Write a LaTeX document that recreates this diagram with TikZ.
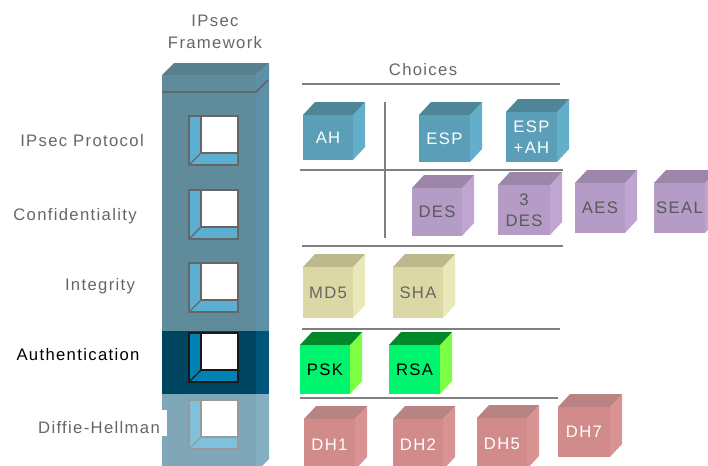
\documentclass[tikz,border=0pt]{standalone}
\usepackage{fontspec}
\setmainfont{Liberation Sans}[LetterSpace = 8]
\usetikzlibrary{positioning}

% tower colours
\definecolor{towerfront}{HTML}{5F8B9B}
\definecolor{towerside}{HTML}{5E90A8}
\definecolor{towertop}{HTML}{587F8D}
\definecolor{selfront}{HTML}{00455F}
\definecolor{selside}{HTML}{00557A}
\definecolor{lowfront}{HTML}{7FA7B7}
\definecolor{lowside}{HTML}{84AEC2}
\definecolor{panelight}{HTML}{5BB0D2}
\definecolor{panedark}{HTML}{0082B4}
\definecolor{panepale}{HTML}{7FC0DD}
% cube colours
\definecolor{protofront}{HTML}{5A9EB7}
\definecolor{prototop}{HTML}{4E8597}
\definecolor{protoside}{HTML}{63AFCB}
\definecolor{cipherfront}{HTML}{B49CC6}
\definecolor{ciphertop}{HTML}{9C87AB}
\definecolor{cipherside}{HTML}{C0A5D3}
\definecolor{hashfront}{HTML}{DBD8A6}
\definecolor{hashtop}{HTML}{BDB98D}
\definecolor{hashside}{HTML}{EAE7B8}
\definecolor{keyfront}{HTML}{00F56E}
\definecolor{keytop}{HTML}{00882A}
\definecolor{keyside}{HTML}{7DFF45}
\definecolor{dhfront}{HTML}{D18B8B}
\definecolor{dhtop}{HTML}{B98383}
\definecolor{dhside}{HTML}{DA9393}
\definecolor{labelgray}{HTML}{666666}
\definecolor{rulegray}{HTML}{808080}

\tikzset {
    rule/.style = {draw = rulegray, line width = 1.1pt},
    row label/.style = {anchor = base, inner sep = 0pt, text = labelgray,
        font = \fontsize{12.5}{15}\selectfont},
    title text/.style = {align = center, inner sep = 0pt, text = labelgray,
        font = \fontsize{12.5}{17}\selectfont},
    cube text/.style = {align = center, inner sep = 0pt,
        font = \fontsize{12.5}{16}\selectfont},
    pane border/.style = {line width = 1pt},
}

% choice cube: name, left, top, right, bottom, colour set, text colour, label
\newcommand{\choicecube}[8]{
    \fill [#6side] (#4, #3) -- ++(12, -13) -- ++(0, {#5 - #3}) -- (#4, #5) -- cycle;
    \fill [#6top] (#2, #3) -- ++(12, -13) -- ++({#4 - #2}, 0) -- (#4, #3) -- cycle;
    \fill [#6front] (#2, #3) rectangle (#4, #5);
    \node [cube text, text = #7] (#1) at ({(#2 + #4) / 2}, {(#3 + #5) / 2}) {#8};
}

% window in the tower: name, left, top, pane colour, border colour
\newcommand{\framewindow}[5]{
    \coordinate (#1) at (#2, #3);
    \fill [#4] (#1) rectangle ++(49, 49);
    \fill [white] ({#2 + 12}, #3) rectangle ({#2 + 49}, {#3 + 37});
    \draw [#5, pane border] ({#2 + 12}, #3) -- ({#2 + 12}, {#3 + 37})
        -- ({#2 + 49}, {#3 + 37});
    \draw [#5, pane border] (#2, {#3 + 49}) -- ({#2 + 12}, {#3 + 37});
    \draw [#5, pane border] (#1) rectangle ++(49, 49);
}

\begin{document}
\begin{tikzpicture}[x = 0.75pt, y = -0.75pt]
    \clip (0, 0) rectangle (708, 465);

    % framework tower
    \fill [towertop] (162, 75) -- (174, 63) -- (269, 63) -- (256, 75) -- cycle;
    \fill [towerfront] (162, 75) rectangle (256, 331);
    \fill [towerside] (256, 75) -- (269, 63) -- (269, 331) -- (256, 331) -- cycle;
    \fill [selfront] (162, 331) rectangle (256, 394);
    \fill [selside] (256, 331) rectangle (269, 394);
    \fill [lowfront] (162, 394) rectangle (256, 475);
    \fill [lowside] (256, 394) -- (269, 394) -- (269, 459) -- (256, 472) -- cycle;
    \draw [black!65, line width = 1pt] (162, 92) -- (256, 92) -- (268, 80);

    \framewindow{pane1}{189}{116}{panelight}{black!60}
    \framewindow{pane2}{189}{190}{panelight}{black!60}
    \framewindow{pane3}{189}{263}{panelight}{black!60}
    \framewindow{pane4}{189}{333}{panedark}{black!90}
    \framewindow{pane5}{189}{400}{panepale}{black!40}

    \node [title text] (framework) at (215, 32) {IPsec\\Framework};

    % row names
    \node [row label] (protocol) at (82, 146) {IPsec Protocol};
    \node [row label] (confidentiality) at (75, 220) {Confidentiality};
    \node [row label] (integrity) at (100, 290) {Integrity};
    \node [row label, text = black] (authentication) at (78, 360) {Authentication};
    \fill [white] (35, 410) rectangle (167, 436);
    \node [row label] (diffie) at (99, 433) {Diffie-Hellman};

    % choices grid
    \node [row label] (choices) at (423, 75) {Choices};
    \draw [rule] (302, 84) -- (560, 84);
    \draw [rule] (385, 102) -- (385, 238);
    \draw [rule] (300, 170) -- (563, 170);
    \draw [rule] (302, 246) -- (563, 246);
    \draw [rule] (302, 329) -- (560, 329);
    \draw [rule] (300, 398) -- (558, 398);

    \choicecube{ah}{303}{115}{353}{160}{proto}{white}{AH}
    \choicecube{esp}{419}{115}{470}{162}{proto}{white}{ESP}
    \choicecube{espah}{506}{112}{557}{162}{proto}{white}{ESP\\+AH}

    \choicecube{des}{412}{188}{462}{236}{cipher}{black!65}{DES}
    \choicecube{tdes}{498}{185}{550}{235}{cipher}{black!65}{3\\DES}
    \choicecube{aes}{575}{183}{625}{233}{cipher}{black!65}{AES}
    \choicecube{seal}{654}{183}{705}{233}{cipher}{black!65}{SEAL}

    \choicecube{md5}{303}{267}{353}{318}{hash}{black!60}{MD5}
    \choicecube{sha}{393}{267}{443}{318}{hash}{black!60}{SHA}

    \choicecube{psk}{300}{345}{350}{394}{key}{black}{PSK}
    \choicecube{rsa}{389}{345}{440}{394}{key}{black}{RSA}

    \choicecube{dha}{304}{419}{355}{470}{dh}{white}{DH1}
    \choicecube{dhb}{393}{419}{443}{470}{dh}{white}{DH2}
    \choicecube{dhc}{477}{418}{527}{469}{dh}{white}{DH5}
    \choicecube{dhd}{558}{407}{610}{457}{dh}{white}{DH7}
\end{tikzpicture}
\end{document}
